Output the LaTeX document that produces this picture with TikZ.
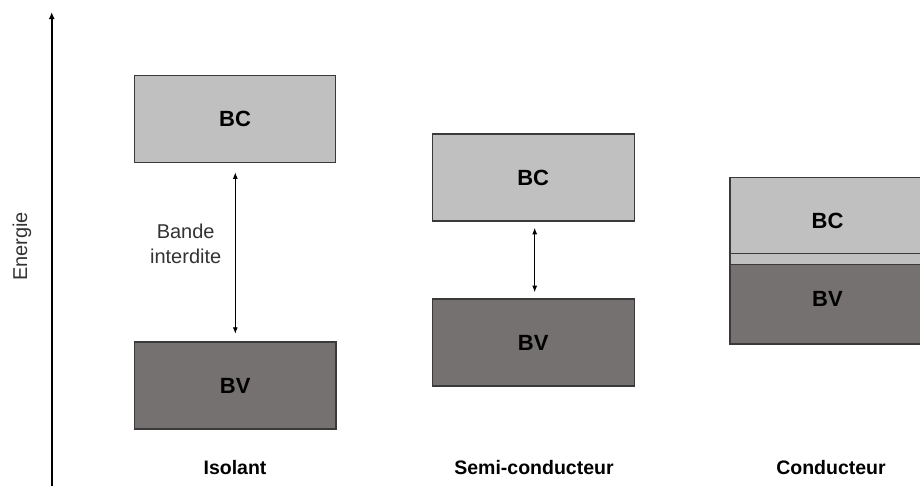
\documentclass[tikz,border=0pt]{standalone}
\usepackage{fontspec}
\setmainfont{Liberation Sans}
\usetikzlibrary{arrows.meta}
\definecolor{bcfill}{HTML}{C0C0C0}
\definecolor{bvfill}{HTML}{767171}
\definecolor{edgegray}{HTML}{3A3A3A}
\definecolor{textgray}{HTML}{333333}
\begin{document}
\begin{tikzpicture}[x=1pt,y=-1pt,
  band/.style={draw=edgegray, line width=1.1pt, inner sep=0pt, text=black,
    font=\fontsize{22}{26}\selectfont\bfseries},
  bcband/.style={band, fill=bcfill},
  bvband/.style={band, fill=bvfill},
  edgeline/.style={draw=edgegray, line width=1.1pt},
  gaparrow/.style={line width=0.9pt, {Latex[length=6.5pt,width=5pt]}-{Latex[length=6.5pt,width=5pt]}},
  axisline/.style={line width=1.6pt, -{Latex[length=7pt,width=6pt]}},
  caption/.style={font=\fontsize{19.5}{24}\selectfont\bfseries, text=black, anchor=base, inner sep=0pt},
  note/.style={font=\fontsize{20}{25}\selectfont, text=textgray, inner sep=0pt}
]
\useasboundingbox (0,0) rectangle (920,493);
\clip (0,0) rectangle (920,493);

% energy axis
\coordinate (axbot) at (51.7,486);
\coordinate (axtop) at (51.7,12);
\draw[axisline] (axbot) -- (axtop);
\node[note, rotate=90] (energie) at (22,246.5) {Energie};

% Isolant
\node[bcband, minimum width=201pt, minimum height=87.4pt] (bc1) at (235,118.9) {BC};
\node[bvband, minimum width=201.5pt, minimum height=87pt] (bv1) at (235.2,385.5) {BV};
\draw[gaparrow] ([xshift=0.3pt,yshift=-9.2pt]bc1.south) -- ([xshift=0.1pt,yshift=7.7pt]bv1.north);
\node[note, align=center] (gaplabel) at (185.7,243.5) {Bande\\interdite};
\node[caption] (iso) at (235,474) {Isolant};

% Semi-conducteur
\node[bcband, minimum width=201.7pt, minimum height=87pt] (bc2) at (533.2,177.5) {BC};
\node[bvband, minimum width=201.7pt, minimum height=87pt] (bv2) at (533.2,342.5) {BV};
\draw[gaparrow] ([xshift=1.5pt,yshift=-6.3pt]bc2.south) -- ([xshift=1.5pt,yshift=6.3pt]bv2.north);
\node[caption] (semi) at (534,474) {Semi-conducteur};

% Conducteur (overlapping bands)
\node[bvband, minimum width=195pt, minimum height=90pt] (bv3) at (827.5,299) {BV};
\node[bcband, minimum width=195pt, minimum height=87.4pt] (bc3) at (827.5,221) {BC};
\draw[edgeline] (bv3.north west) -- (bv3.north east);
\node[caption] (cond) at (831,474) {Conducteur};
\end{tikzpicture}
\end{document}
